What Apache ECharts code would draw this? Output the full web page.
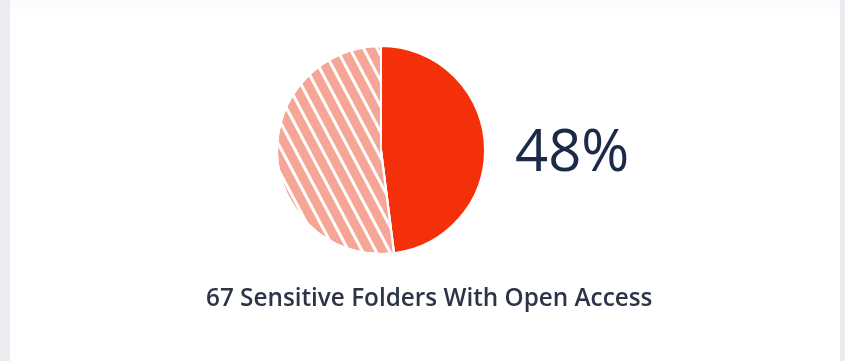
<!DOCTYPE html>
<html><head><meta charset="utf-8">
<script src="https://cdn.jsdelivr.net/npm/echarts@6/dist/echarts.min.js"></script>
<style>html,body{margin:0;padding:0;background:#fff}#c{width:845px;height:361px}</style>
</head><body><div id="c"></div>
<script>
const categories = ['Open Access', 'Other'];
const values = [48, 52];
const folderCount = 67;
const captionText = 'Sensitive Folders With Open Access';

const chart = echarts.init(document.getElementById('c'), null, {renderer: 'canvas'});
const total = values[0] + values[1];
const pct = Math.round(values[0] / total * 100);

chart.setOption({
  animation: false,
  backgroundColor: '#ffffff',
  graphic: [
    {type: 'rect', shape: {x: 0, y: 0, width: 10, height: 361}, style: {fill: '#ebebf0'}, z: -10},
    {type: 'rect', shape: {x: 840, y: 0, width: 5, height: 361}, style: {fill: '#ebebf0'}, z: -10},
    {type: 'rect', shape: {x: 10, y: 0, width: 830, height: 9}, style: {fill: '#fbfbfd'}, z: -10},
    {type: 'text', left: 515, top: 125, style: {text: pct + '%', font: '58px "Open Sans"', fill: '#1b2a47'}},
    {type: 'text', left: 206, top: 287, style: {text: folderCount + ' ' + captionText, font: '600 24.3px "Open Sans"', fill: '#2d3446'}}
  ],
  series: [{
    type: 'pie',
    center: [381, 150],
    radius: [0, 104],
    startAngle: 90,
    clockwise: true,
    label: {show: false},
    labelLine: {show: false},
    silent: true,
    itemStyle: {borderColor: '#fff', borderWidth: 2},
    data: [
      {name: categories[0], value: values[0], itemStyle: {color: '#f3300a'}},
      {name: categories[1], value: values[1], itemStyle: {color: '#f6a696',
        decal: {symbol: 'rect', color: '#ffffff', dashArrayX: [1, 0], dashArrayY: [2.5, 8.5], rotation: Math.PI / 2.9}}}
    ]
  }]
});
</script></body></html>
